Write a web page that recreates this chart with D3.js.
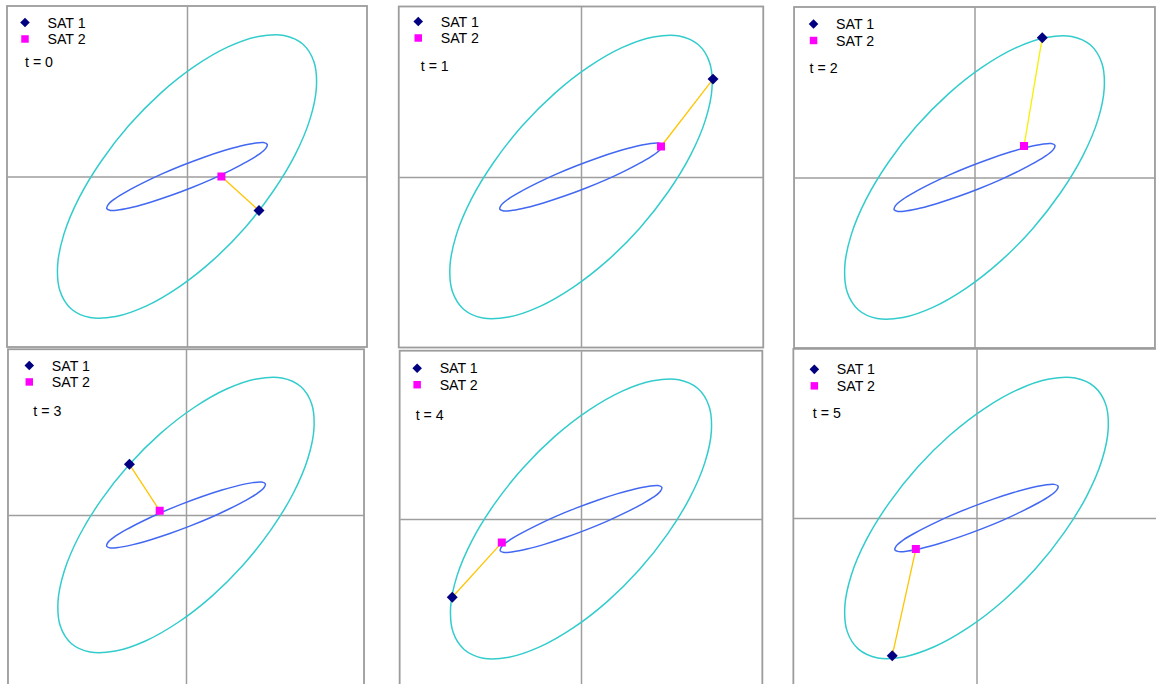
<!DOCTYPE html>
<html>
<head>
<meta charset="utf-8">
<script src="https://cdn.jsdelivr.net/npm/d3@7"></script>
<style>
  html, body { margin: 0; padding: 0; background: #fff; }
  svg { display: block; }
  text { font-family: "Liberation Sans", Arial, sans-serif; font-size: 14.2px; fill: #000; }
</style>
</head>
<body>
<svg id="chart" width="1156" height="684"></svg>
<script>
// Time steps, one snapshot per panel
const times = [0, 1, 2, 3, 4, 5];

// Orbit of SAT 1 (x, y)
const outerOrbit = [
  [5.80, 6.59], [4.85, 7.03], [3.57, 6.98], [2.05, 6.46], [0.39, 5.50], [-1.30, 4.17],
  [-2.90, 2.55], [-4.30, 0.75], [-5.41, -1.09], [-6.15, -2.86], [-6.47, -4.44], [-6.35, -5.71],
  [-5.80, -6.59], [-4.85, -7.03], [-3.57, -6.98], [-2.05, -6.46], [-0.39, -5.50], [1.30, -4.17],
  [2.90, -2.55], [4.30, -0.75], [5.41, 1.09], [6.15, 2.86], [6.47, 4.44], [6.35, 5.71]
];

// Orbit of SAT 2 (x, y)
const innerOrbit = [
  [4.01, 1.60], [3.82, 1.69], [3.37, 1.66], [2.68, 1.52], [1.82, 1.28], [0.82, 0.95],
  [-0.22, 0.56], [-1.25, 0.13], [-2.20, -0.32], [-3.00, -0.74], [-3.59, -1.10], [-3.94, -1.40],
  [-4.01, -1.60], [-3.82, -1.69], [-3.37, -1.66], [-2.68, -1.52], [-1.82, -1.28], [-0.82, -0.95],
  [0.22, -0.56], [1.25, -0.13], [2.20, 0.32], [3.00, 0.74], [3.59, 1.10], [3.94, 1.40]
];

// Satellite positions at each time step
const sat1 = [[3.60, -1.70], [6.52, 4.88], [3.38, 6.97], [-2.86, 2.60], [-6.39, -3.95], [-4.14, -6.92]];
const sat2 = [[1.72, 0.00], [3.95, 1.52], [2.47, 1.57], [-1.33, 0.22], [-3.93, -1.19], [-2.98, -1.56]];

// Series names for the legend
const seriesNames = ["SAT 1", "SAT 2"];

// Axis ranges
const xDomain = [-9, 9];
const yMax = 8.5;

// Panel placement: origin, pixels per unit, lower y limit, legend and label offsets
const layout = [
  { ox: 187,   oy: 176.5, kx: 20.0,  ky: 20.06, yMin: -8.5, lg: [18, 16.5],  tl: [18, 56] },
  { ox: 581,   oy: 177,   kx: 20.25, ky: 20.06, yMin: -8.5, lg: [19.5, 15],  tl: [22, 59] },
  { ox: 974.5, oy: 177.5, kx: 20.05, ky: 20.06, yMin: -8.5, lg: [19.5, 17],  tl: [15.5, 61] },
  { ox: 186,   oy: 515,   kx: 19.78, ky: 19.5,  yMin: -9.5, lg: [21.3, 16.2], tl: [25.3, 61.5] },
  { ox: 581,   oy: 519,   kx: 20.15, ky: 19.8,  yMin: -9.5, lg: [17.5, 17.5], tl: [16, 64] },
  { ox: 976.5, oy: 518,   kx: 20.35, ky: 19.9,  yMin: -9.5, lg: [21, 20.5],  tl: [19.5, 64] }
];

const col = {
  frame: "#9c9c9c", axis: "#9e9e9e",
  outer: "#33cccc", inner: "#4268f2",
  link: "#ffc400", linkAlt: "#f4f000",
  sat1: "#000080", sat2: "#ff00ff"
};

const svg = d3.select("#chart");
const diamond = d3.symbol().type(d3.symbolSquare).size(60);
const square = d3.symbol().type(d3.symbolSquare).size(64);

times.forEach((t, i) => {
  const L = layout[i];
  const x = d3.scaleLinear().domain(xDomain)
    .range([L.ox + xDomain[0] * L.kx, L.ox + xDomain[1] * L.kx]);
  const y = d3.scaleLinear().domain([L.yMin, yMax])
    .range([L.oy - L.yMin * L.ky, L.oy - yMax * L.ky]);

  const g = svg.append("g").attr("class", "panel");
  const left = x(xDomain[0]), right = x(xDomain[1]);
  const top = y(yMax), bottom = y(L.yMin);

  const clipId = "clip" + i;
  g.append("clipPath").attr("id", clipId)
    .append("rect").attr("x", left).attr("y", top)
    .attr("width", right - left).attr("height", bottom - top);

  // plot frame
  g.append("rect")
    .attr("x", left).attr("y", top)
    .attr("width", right - left).attr("height", bottom - top)
    .attr("fill", "#fff").attr("stroke", col.frame).attr("stroke-width", 1.8);

  // axes through the origin
  const xAxis = g.append("g").attr("transform", `translate(0,${y(0)})`)
    .call(d3.axisBottom(x).tickValues([]).tickSizeOuter(0));
  const yAxis = g.append("g").attr("transform", `translate(${x(0)},0)`)
    .call(d3.axisLeft(y).tickValues([]).tickSizeOuter(0));
  [xAxis, yAxis].forEach(a => a.select(".domain")
    .attr("stroke", col.axis).attr("stroke-width", 1.5));

  const plot = g.append("g").attr("clip-path", `url(#${clipId})`);
  const orbitLine = d3.line().x(d => x(d[0])).y(d => y(d[1]))
    .curve(d3.curveCatmullRomClosed.alpha(0.5));

  plot.append("path").attr("d", orbitLine(outerOrbit))
    .attr("fill", "none").attr("stroke", col.outer).attr("stroke-width", 1.5);
  plot.append("path").attr("d", orbitLine(innerOrbit))
    .attr("fill", "none").attr("stroke", col.inner).attr("stroke-width", 1.5);

  // separation line between the two satellites
  plot.append("line")
    .attr("x1", x(sat1[i][0])).attr("y1", y(sat1[i][1]))
    .attr("x2", x(sat2[i][0])).attr("y2", y(sat2[i][1]))
    .attr("stroke", t === 2 ? col.linkAlt : col.link).attr("stroke-width", 1.3);

  plot.append("path").attr("d", square())
    .attr("transform", `translate(${x(sat2[i][0])},${y(sat2[i][1])})`)
    .attr("fill", col.sat2);
  plot.append("path").attr("d", diamond())
    .attr("transform", `translate(${x(sat1[i][0])},${y(sat1[i][1])}) rotate(45)`)
    .attr("fill", col.sat1);

  // legend
  const lx = left + L.lg[0], ly = top + L.lg[1];
  const leg = g.append("g");
  leg.append("path").attr("d", d3.symbol().type(d3.symbolSquare).size(46)())
    .attr("transform", `translate(${lx},${ly}) rotate(45)`).attr("fill", col.sat1);
  leg.append("path").attr("d", d3.symbol().type(d3.symbolSquare).size(56)())
    .attr("transform", `translate(${lx},${ly + 16.5})`).attr("fill", col.sat2);
  seriesNames.forEach((name, k) => {
    leg.append("text").attr("x", lx + 22.5).attr("y", ly + k * 16.5).attr("dy", "0.36em").text(name);
  });
  g.append("text").attr("x", left + L.tl[0]).attr("y", top + L.tl[1]).attr("dy", "0.36em")
    .text(`t = ${t}`);
});
</script>
</body>
</html>
